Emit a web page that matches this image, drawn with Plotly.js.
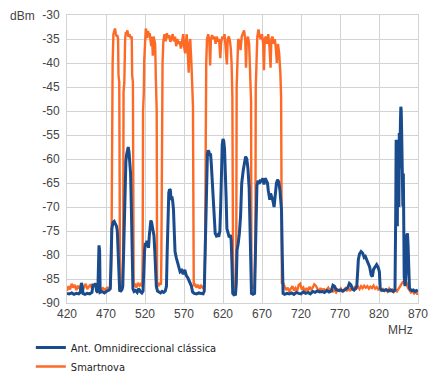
<!DOCTYPE html>
<html>
<head>
<meta charset="utf-8">
<script src="https://cdn.plot.ly/plotly-3.0.1.min.js"></script>
<style>
html,body{margin:0;padding:0;background:#fff;}
#chart{width:430px;height:374px;}
.legendtext{font-stretch:condensed !important;}
</style>
</head>
<body>
<div id="chart"></div>
<script>
// Series names
const seriesNames = ["Ant. Omnidireccional clássica", "Smartnova"];

// Axis ticks
const xTicks = [420, 470, 520, 570, 620, 670, 720, 770, 820, 870];
const yTicks = [-30, -35, -40, -45, -50, -55, -60, -65, -70, -75, -80, -85, -90];

// Smartnova (orange) frequency (MHz) and level (dBm)
const smartFreq = [420,422,424,426,428,430,432,434,436,438,440,442,444,446,448,450,452,454,456,458,460,462,464,466,468,470,472,474,476,
477,477.5,478.5,479.5,480.5,481.5,482.5,483.5,484.5,485.5,486,487,488,489.5,491,
492,492.5,493.5,494.5,495.5,496.5,497.5,498.5,500,501.5,503,503.5,504.5,505.5,507,509,511,513,515,516.5,
517,517.5,518.5,519,520,521,522,523,524,525,526,527,528,529,530,531,532,533,534,535,535.5,537,539,540.5,
541,541.5,542.5,543.5,545,546.5,548,549.5,551,552.5,554,555.5,557,558.5,560,561.5,563,564.5,566,567.5,569,570,571.5,572.5,573.5,575,576,577,578,579.5,580.5,581.5,582.5,584,586,588,590,592,594,596,
597,597.5,598.5,599.5,601,602.5,603.5,604.5,606,607.5,609,610.5,612,613.5,615,616.5,617.5,619,620.5,622,623.5,625,626,627.5,629,630,631,632,633,634.5,636,
637,637.5,638.5,639.5,641,642.5,644,645.5,647,648.5,649.5,650.5,652,653.5,655,656,656.5,658.5,660.5,
661.5,662,663,664,665.5,667,668.5,670,671.5,672.5,673.5,675,676.5,678,679.5,681,682,683.5,685,686.5,688,689,690.5,692,693.5,694.5,695.5,
697,699,701,703,705,707,709,711,713,715,717,719,721,723,725,727,729,731,733,735,737,739,741,743,745,747,749,751,753,755,757,759,761,763,765,767,769,771,773,775,777,779,781,783,785,787,789,791,793,795,797,799,801,803,805,807,809,811,813,815,817,819,821,823,825,827,829,831,833,835,837,839,841,843,845,847,849,851,853,855,857,859,861,863,865,867,869,870];
const smartLevel = [-87.5,-86.5,-87.2,-86.0,-86.8,-86.2,-87.3,-86.4,-87.0,-86.3,-87.4,-86.6,-86.0,-87.1,-86.5,-86.1,-87.0,-86.6,-86.2,-86.9,-86.5,-87.3,-87.1,-86.9,-87.2,-87.0,-86.8,-87.0,-86.6,
-80,-43,-40,-34,-33.5,-32.8,-33.8,-34.5,-34.2,-35,-42.5,-44,-86.8,-87.0,-86.5,
-80,-46,-44,-35,-33.5,-34,-33.2,-34.5,-34,-34.8,-34.5,-42.5,-44,-86.5,-86.0,-86.8,-85.8,-86.4,-86.0,-86.6,
-80,-50,-46,-39.5,-33.5,-32.8,-33.5,-34.8,-33.3,-34.2,-33.8,-35,-36.5,-34.5,-38.5,-34.5,-35,-36,-44,-50,-86,-86.5,-85.8,-86.2,
-80,-48,-40,-35.5,-34,-35.5,-33.8,-34.8,-34.2,-35.6,-34.5,-34,-35.5,-34.5,-36.5,-35,-36,-35.5,-37,-35,-34,-36.5,-38,-35.5,-34,-38.5,-42,-36,-35,-40,-44,-49,-86.5,-86.0,-86.8,-86.2,-87.0,-86.4,-86.8,-86.5,
-80,-48,-40,-35,-34,-35.5,-40.5,-35,-34.2,-35,-34.5,-36,-34.5,-35.5,-35,-39,-36,-34.5,-35,-34,-38.5,-40.3,-35,-34.5,-35.5,-37,-40,-47,-86.5,-86.8,-86.3,
-80,-45,-40,-35,-35.5,-37.3,-34.5,-34,-33.2,-35,-41,-35.5,-34.5,-36,-42,-48,-86.5,-86.8,-86.3,
-80,-45,-40,-34.5,-33,-34.5,-35,-34,-36,-41.5,-35,-34.5,-36,-34,-36.5,-41,-35,-34.5,-36,-35,-37.5,-40,-36,-38,-42,-47,-86,
-85.8,-86.6,-87.3,-86.8,-87.6,-87.0,-86.5,-87.4,-86.9,-87.5,-86.3,-86.0,-87.2,-86.8,-87.6,-86.9,-87.4,-86.6,-87.3,-86.8,-86.1,-86.4,-87.2,-87.6,-86.9,-87.5,-87.0,-87.7,-87.2,-86.8,-87.5,-87.1,-87.6,-87.3,-87.8,-87.2,-87.5,-87.0,-87.6,-87.3,-86.9,-87.4,-87.0,-87.5,-86.8,-87.2,-86.7,-87.0,-86.6,-87.1,-86.5,-86.9,-86.4,-86.8,-86.5,-87.0,-86.6,-86.9,-86.4,-87.0,-86.7,-87.2,-87.0,-87.4,-87.1,-87.5,-87.2,-87.6,-87.0,-87.5,-87.2,-87.7,-87.3,-87.6,-87.0,-86.5,-85.8,-85.5,-86.2,-85.6,-86.8,-87.4,-87.8,-87.5,-88.0,-87.6,-88.2,-87.9];

// Ant. Omnidireccional clássica (blue) frequency (MHz) and level (dBm)
const omniFreq = [420,423,426,429,432,435,437,438.5,439.5,440.5,443,446,449,452,453.5,455,456.5,458,459.5,460.5,461,461.8,462.5,465,468,471,474,475.5,
476.5,477.5,479,480.5,482,483.5,484.5,485.5,486.5,487.5,489,490.5,491.5,
492.5,493.5,494.5,495.5,496.5,497.5,498.5,499.5,500.5,501.5,502.5,503.5,504.5,506,508,510,512,514,516,517.5,
518.5,519.5,520.5,521.5,522.5,523.5,524.5,525.5,526.5,527.5,528.5,529.5,530.5,531.5,532.5,533.5,534.5,536,538,540,542,544,546,547.5,
548.5,549.5,550.5,551.5,552.5,553.5,554.5,555.5,556.5,557.5,558.5,560,561.5,563,565,567,569,571,573,575,576.5,578,579.5,581,583,586,589,592,594.5,596,
597,598,599,600,601,602,603,604,605,606,607.5,609,610,611.5,613,614.5,616,617,618,619,620,621,622,623,624,625,626.5,628,629.5,630.5,631.5,632.5,634,636,
637,638,639.5,641,642.5,644,646,647.5,649,650.5,652,653.5,654.5,655.5,656.5,658.5,660.5,
661.5,662.5,663.5,665,666.5,668,669.5,671,672.5,674,675.5,677,678,679,680,681,682.5,684,685.5,687,688.5,690,691.5,693,694,695,696,
697,699,702,705,708,711,714,717,720,723,726,729,732,735,738,741,744,747,750,753,756,759,761,763,765,768,771,774,777,780,782,784,786,788,790,
791.5,792.5,793.5,795,797,799,801,802.5,804,806,808,810,811.5,813,815,817,819,820.5,821.5,823,826,829,832,835,838,840.5,
841.5,842,842.5,843,843.5,844,844.5,845,845.5,846,846.5,847,847.5,848,848.5,849,849.5,850,850.6,851.2,851.8,852.3,853.5,854.5,855.5,856.5,857.3,858,859,860,862,864,866,868,870];
const omniLevel = [-88.0,-88.1,-87.9,-88.2,-88.0,-88.1,-87.8,-85.8,-86.4,-88.0,-88.2,-88.0,-88.1,-87.8,-86.0,-86.5,-85.9,-87.5,-87.8,-80,-78.0,-79,-87.8,-87.6,-87.9,-87.5,-87.3,-87.0,
-80.5,-74.5,-73.2,-73.0,-73.5,-74.0,-75,-80,-86,-87.4,-87.5,-87.2,-86.5,
-80,-70,-64,-60.5,-59,-58,-57.5,-58.5,-60.5,-63,-70,-80,-87,-87.6,-87.4,-87.8,-87.0,-87.6,-87.9,-87.5,
-81,-79,-77.5,-78.2,-77,-77.5,-78.5,-76,-74,-72.8,-73.2,-74.5,-75,-76,-79,-83,-86.5,-87.5,-87.8,-87.9,-87.6,-87.8,-87.5,-86.5,
-79,-72,-67,-66.3,-66.5,-68.5,-67.8,-68.8,-70.5,-75,-79.3,-80.5,-81.5,-82.5,-83.5,-83.2,-84,-83.1,-84.3,-84.8,-85.6,-85.9,-86.5,-87.7,-88.0,-88.1,-87.9,-88.0,-88.1,-87.5,
-80,-68,-61,-59,-58.2,-58.5,-59.3,-58.8,-61,-64,-69.6,-74,-75.5,-76,-75.8,-76.2,-75,-70,-62,-57,-55.8,-56.3,-58,-62,-68,-74.5,-75.5,-76.3,-75.8,-77,-82,-88,-88.3,-88.2,
-86,-79,-77.6,-75.5,-72,-65,-62.3,-60.5,-59.5,-60,-62,-66,-74,-83,-88,-88.2,-88.0,
-80,-69,-65.5,-64.5,-65.2,-64.3,-64.8,-64,-65.3,-64,-64.6,-65,-66.5,-67.6,-68.5,-67.2,-67.8,-68.7,-70,-67,-65,-64.3,-64.8,-66.5,-68,-70.6,-80,
-88,-88.2,-88.0,-88.1,-87.9,-88.2,-87.8,-88.0,-88.1,-87.7,-88.0,-87.8,-88.1,-87.6,-87.8,-87.5,-87.7,-87.6,-87.8,-87.4,-87.7,-87.5,-86.3,-86.5,-87.2,-87.4,-87.3,-87.5,-87.2,-86.8,-85.9,-86.2,-87.1,-87.3,-87.0,
-86.5,-84,-81,-79.8,-79.3,-79.6,-80.5,-80.3,-81,-81.7,-82.5,-84.2,-84.5,-83,-82.4,-82,-82.6,-83.5,-86.9,-87.3,-87.4,-87.2,-87.5,-87.3,-87.6,-87.3,
-70,-56,-68,-56.5,-74,-56,-66,-58,-70,-54.6,-62,-57,-52,-49.1,-50,-54,-60,-58,-69.9,-63,-72,-84.5,-86.5,-84,-76,-75.5,-78,-84,-86.8,-87.2,-87.4,-87.3,-87.6,-87.4,-87.6];

const blue = "#1a4b8c";
const orange = "#fc6a26";
const gridColor = "#d3d3d3";
const tickFont = {family: "Liberation Sans, Arial, sans-serif", size: 12, color: "#444"};
const legendFont = {family: "Liberation Sans Narrow, DejaVu Sans, sans-serif", size: 11, color: "#222"};

const traces = [
  {x: smartFreq, y: smartLevel, type: "scatter", mode: "lines", name: seriesNames[1],
   line: {color: orange, width: 2.4}},
  {x: omniFreq, y: omniLevel, type: "scatter", mode: "lines", name: seriesNames[0],
   line: {color: blue, width: 3}}
];

const layout = {
  width: 430, height: 374,
  margin: {l: 67, r: 12, t: 15, b: 71, pad: 0, autoexpand: false},
  paper_bgcolor: "#fff", plot_bgcolor: "#fff",
  showlegend: true,
  legend: {orientation: "v", traceorder: "reversed", x: -0.103, xanchor: "left", y: -0.104, yanchor: "top",
           font: legendFont, bgcolor: "rgba(0,0,0,0)", tracegroupgap: 0, itemwidth: 30},
  xaxis: {range: [420, 870], tickvals: xTicks, ticktext: xTicks.map(String), showgrid: true, gridcolor: gridColor, gridwidth: 1,
          showline: true, linecolor: gridColor, linewidth: 1, mirror: true, zeroline: false, ticks: "",
          tickfont: tickFont, fixedrange: true},
  yaxis: {range: [-90, -30], tickvals: yTicks, ticktext: yTicks.map(String), showgrid: true, gridcolor: gridColor, gridwidth: 1,
          showline: true, linecolor: gridColor, linewidth: 1, mirror: true, zeroline: false, ticks: "",
          tickfont: tickFont, ticklabelstandoff: 4, fixedrange: true},
  annotations: [
    {text: "dBm", xref: "paper", yref: "paper", x: -0.168, y: 0.9965, xanchor: "left", yanchor: "middle",
     showarrow: false, font: tickFont},
    {text: "MHz", xref: "paper", yref: "paper", x: 0.9915, y: -0.094, xanchor: "right", yanchor: "middle",
     showarrow: false, font: tickFont}
  ]
};

Plotly.newPlot("chart", traces, layout, {displayModeBar: false, staticPlot: true});
</script>
</body>
</html>
